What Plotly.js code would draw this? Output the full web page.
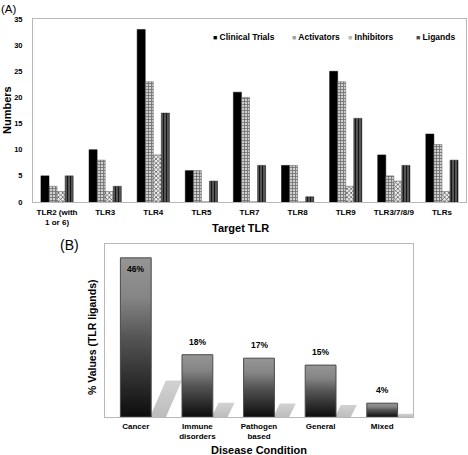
<!DOCTYPE html>
<html><head><meta charset="utf-8">
<script src="https://cdn.plot.ly/plotly-3.0.1.min.js"></script>
<style>html,body{margin:0;padding:0;background:#fff}</style>
</head><body><div id="chart" style="width:468px;height:455px"></div>
<script>
// ---- Data ----
const tlrCategories = ["TLR2 (with<br>1 or 6)","TLR3","TLR4","TLR5","TLR7","TLR8","TLR9","TLR3/7/8/9","TLRs"];
const seriesNames = ["Clinical Trials","Activators","Inhibitors","Ligands"];
const clinicalTrials = [5,10,33,6,21,7,25,9,13];
const activators = [3,8,23,6,20,7,23,5,11];
const inhibitors = [2,2,9,0,0,0,3,4,2];
const ligands = [5,3,17,4,7,1,16,7,8];
const yTicksA = [0,5,10,15,20,25,30,35];
const diseaseCategories = ["Cancer","Immune<br>disorders","Pathogen<br>based","General","Mixed"];
const diseaseValues = [46,18,17,15,4];

// ---- Layout helpers ----
const W = 468, H = 455;
const px = x => x / W;
const py = y => 1 - y / H;
const FONT = 'Liberation Sans, Arial, sans-serif';
const bold = (size, color) => ({family: FONT, size: size, color: color || '#000', weight: 'bold'});

const seriesValues = [clinicalTrials, activators, inhibitors, ligands];
const seriesStyles = [
  {color: '#000000', pattern: {shape: ''}, line: {color: '#000', width: 0.5}},
  {color: '#c4c4c4', pattern: {shape: '+', fgcolor: '#6a6a6a', bgcolor: '#cfcfcf', size: 3, solidity: 0.45}, line: {color: '#555', width: 0.5}},
  {color: '#e6e6e6', pattern: {shape: 'x', fgcolor: '#4a4a4a', bgcolor: '#eeeeee', size: 3, solidity: 0.4}, line: {color: '#555', width: 0.5}},
  {color: '#555555', pattern: {shape: '|', fgcolor: '#151515', bgcolor: '#6a6a6a', size: 3, solidity: 0.5}, line: {color: '#222', width: 0.5}}
];
const legendSwatch = ['#000000', '#a0a0a0', '#b8b8b8', '#4d4d4d'];
const legendLeft = [211, 290, 346, 414];

const traces = [];
seriesNames.forEach((name, k) => {
  traces.push({
    type: 'bar', name: name, x: tlrCategories, y: seriesValues[k],
    xaxis: 'x', yaxis: 'y', marker: seriesStyles[k], showlegend: false
  });
});

// Panel B: gradient bars with drop shadows, built from the data through the axes
const halfW = 0.25;
diseaseValues.forEach((v, i) => {
  const h = 0.23 * v;
  const s = 0.0225 * h;
  const xr = i + halfW;
  traces.push({
    type: 'scatter', mode: 'lines', xaxis: 'x2', yaxis: 'y2', showlegend: false, hoverinfo: 'skip',
    x: [xr - 0.02, xr + s, xr + s + 0.26, xr + 0.24, xr - 0.02], y: [0, h, h, 0, 0],
    fill: 'toself', line: {width: 0},
    fillgradient: {type: 'vertical', colorscale: [[0, '#bdbdbd'], [1, '#d2d2d2']]}
  });
});
diseaseValues.forEach((v, i) => {
  traces.push({
    type: 'scatter', mode: 'lines', xaxis: 'x2', yaxis: 'y2', showlegend: false,
    name: diseaseCategories[i].replace('<br>', ' '),
    x: [i - halfW, i - halfW, i + halfW, i + halfW, i - halfW], y: [0, v, v, 0, 0],
    fill: 'toself',
    fillgradient: {type: 'vertical', colorscale: [[0, '#0c0c0c'], [0.5, '#555555'], [0.75, '#858585'], [1, '#959595']]},
    line: {color: '#4a4a4a', width: 1}
  });
});

const annotations = [];
// Legend (panel A)
seriesNames.forEach((name, k) => {
  annotations.push({
    xref: 'paper', yref: 'paper', x: px(legendLeft[k]), y: py(37), xanchor: 'left', yanchor: 'middle',
    showarrow: false, font: bold(8.5),
    text: '<span style="color:' + legendSwatch[k] + ';font-size:7px">■</span> ' + name
  });
});
// Value labels (panel B)
diseaseValues.forEach((v, i) => {
  const inside = v > 40;
  annotations.push({
    xref: 'x2', yref: 'y2', x: i, y: v, xanchor: 'center',
    yanchor: inside ? 'top' : 'bottom', yshift: inside ? -4 : 6,
    showarrow: false, font: bold(8.5), text: v + '%'
  });
});
// Panel labels and axis titles
annotations.push(
  {xref: 'paper', yref: 'paper', x: 0, y: py(9), xanchor: 'left', yanchor: 'middle', showarrow: false,
   borderpad: 0, text: '(A)', font: {family: FONT, size: 11.5, color: '#000'}},
  {xref: 'paper', yref: 'paper', x: px(59), y: py(245), xanchor: 'left', yanchor: 'middle', showarrow: false,
   borderpad: 0, text: '(B)', font: {family: FONT, size: 14, color: '#000'}},
  {xref: 'paper', yref: 'paper', x: px(7), y: py(110), xanchor: 'center', yanchor: 'middle', showarrow: false,
   textangle: -90, text: 'Numbers', font: bold(11)},
  {xref: 'paper', yref: 'paper', x: px(241), y: py(228), xanchor: 'center', yanchor: 'middle', showarrow: false,
   text: 'Target TLR', font: bold(11)},
  {xref: 'paper', yref: 'paper', x: px(92), y: py(337), xanchor: 'center', yanchor: 'middle', showarrow: false,
   textangle: -90, text: '% Values (TLR ligands)', font: bold(10.5)},
  {xref: 'paper', yref: 'paper', x: px(259), y: py(450), xanchor: 'center', yanchor: 'middle', showarrow: false,
   text: 'Disease Condition', font: bold(11)}
);

const frame = {showline: true, mirror: true, linecolor: '#b8b8b8', linewidth: 1, showgrid: false, zeroline: false, ticks: ''};

const layout = {
  width: W, height: H, margin: {l: 0, r: 0, t: 0, b: 0},
  paper_bgcolor: '#fff', plot_bgcolor: '#fff',
  barmode: 'group', bargap: 0.33, bargroupgap: 0,
  showlegend: false,
  xaxis: Object.assign({}, frame, {domain: [px(33), px(466)], anchor: 'y', type: 'category',
    tickfont: bold(8), ticklabelstandoff: 2, fixedrange: true}),
  yaxis: Object.assign({}, frame, {domain: [py(202), py(19)], anchor: 'x', range: [0, 35],
    tickvals: yTicksA, tickfont: bold(7.5), ticklabelstandoff: 8, fixedrange: true}),
  xaxis2: Object.assign({}, frame, {domain: [px(105), px(413)], anchor: 'y2', range: [-0.5, 4.5],
    tickvals: diseaseCategories.map((c, i) => i), ticktext: diseaseCategories,
    tickfont: bold(8), ticklabelstandoff: 1, fixedrange: true}),
  yaxis2: Object.assign({}, frame, {domain: [py(417), py(244)], anchor: 'x2', range: [0, 50],
    showticklabels: false, fixedrange: true}),
  annotations: annotations
};

Plotly.newPlot('chart', traces, layout, {displayModeBar: false, staticPlot: true});
</script>
</body></html>
